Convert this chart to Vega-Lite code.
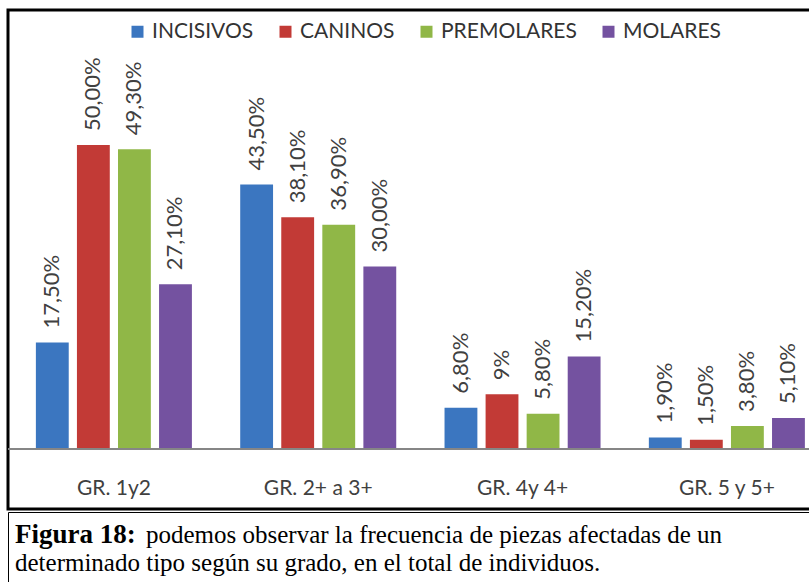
{
  "$schema": "https://vega.github.io/schema/vega-lite/v6.json",
  "padding": {"left": 5, "top": 8, "right": 0, "bottom": 0},
  "background": "white",
  "spacing": 0,
  "vconcat": [
    {
      "width": 803,
      "height": 499,
      "view": {"stroke": "black", "strokeWidth": 3},
      "data": {"values": [
        {"group": "GR. 1y2", "tipo": "INCISIVOS", "value": 17.5, "label": "17,50%"},
        {"group": "GR. 1y2", "tipo": "CANINOS", "value": 50.0, "label": "50,00%"},
        {"group": "GR. 1y2", "tipo": "PREMOLARES", "value": 49.3, "label": "49,30%"},
        {"group": "GR. 1y2", "tipo": "MOLARES", "value": 27.1, "label": "27,10%"},
        {"group": "GR. 2+ a 3+", "tipo": "INCISIVOS", "value": 43.5, "label": "43,50%"},
        {"group": "GR. 2+ a 3+", "tipo": "CANINOS", "value": 38.1, "label": "38,10%"},
        {"group": "GR. 2+ a 3+", "tipo": "PREMOLARES", "value": 36.9, "label": "36,90%"},
        {"group": "GR. 2+ a 3+", "tipo": "MOLARES", "value": 30.0, "label": "30,00%"},
        {"group": "GR. 4y 4+", "tipo": "INCISIVOS", "value": 6.8, "label": "6,80%"},
        {"group": "GR. 4y 4+", "tipo": "CANINOS", "value": 9.0, "label": "9%"},
        {"group": "GR. 4y 4+", "tipo": "PREMOLARES", "value": 5.8, "label": "5,80%"},
        {"group": "GR. 4y 4+", "tipo": "MOLARES", "value": 15.2, "label": "15,20%"},
        {"group": "GR. 5 y 5+", "tipo": "INCISIVOS", "value": 1.9, "label": "1,90%"},
        {"group": "GR. 5 y 5+", "tipo": "CANINOS", "value": 1.5, "label": "1,50%"},
        {"group": "GR. 5 y 5+", "tipo": "PREMOLARES", "value": 3.8, "label": "3,80%"},
        {"group": "GR. 5 y 5+", "tipo": "MOLARES", "value": 5.1, "label": "5,10%"}
      ]},
      "layer": [
        {
          "mark": {"type": "bar"},
          "encoding": {
            "x": {
              "field": "group", "type": "nominal",
              "sort": ["GR. 1y2", "GR. 2+ a 3+", "GR. 4y 4+", "GR. 5 y 5+"],
              "scale": {"paddingInner": 0.2364, "paddingOuter": 0.0832, "align": 0.82},
              "axis": {
                "title": null, "ticks": false, "domain": false, "grid": false,
                "labelAngle": 0, "labelPadding": -32, "labelBaseline": "top",
                "labelFont": "Lato", "labelFontSize": 21,
                "labelColor": "#404040"
              }
            },
            "xOffset": {
              "field": "tipo", "type": "nominal",
              "sort": ["INCISIVOS", "CANINOS", "PREMOLARES", "MOLARES"],
              "scale": {"paddingInner": 0.2, "paddingOuter": 0}
            },
            "y": {
              "field": "value", "type": "quantitative",
              "scale": {"domain": [-9.87, 72.2], "nice": false, "zero": false},
              "axis": null
            },
            "y2": {"datum": 0},
            "color": {
              "field": "tipo", "type": "nominal",
              "sort": ["INCISIVOS", "CANINOS", "PREMOLARES", "MOLARES"],
              "scale": {"domain": ["INCISIVOS", "CANINOS", "PREMOLARES", "MOLARES"],
                        "range": ["#3B76C0", "#C23A36", "#90B747", "#7452A0"]},
              "legend": {
                "title": null, "orient": "none", "direction": "horizontal",
                "legendX": 119, "legendY": 11,
                "symbolType": "square", "symbolSize": 144, "symbolStrokeWidth": 0,
                "labelFont": "Lato", "labelFontSize": 21,
                "labelColor": "#333333", "labelOffset": 4, "columnPadding": 21,
                "labelLimit": 300
              }
            }
          }
        },
        {
          "mark": {"type": "text", "angle": 270, "align": "left", "baseline": "middle",
                   "dx": 14, "font": "Lato", "fontSize": 22, "color": "#404040"},
          "encoding": {
            "x": {"field": "group", "type": "nominal", "sort": ["GR. 1y2", "GR. 2+ a 3+", "GR. 4y 4+", "GR. 5 y 5+"]},
            "xOffset": {"field": "tipo", "type": "nominal", "sort": ["INCISIVOS", "CANINOS", "PREMOLARES", "MOLARES"]},
            "y": {"field": "value", "type": "quantitative"},
            "text": {"field": "label"}
          }
        },
        {
          "mark": {"type": "rule", "color": "#868686", "strokeWidth": 1.5},
          "encoding": {"y": {"datum": 0}}
        }
      ]
    },
    {
      "width": 804,
      "height": 75,
      "view": {"stroke": "black", "strokeWidth": 1},
      "layer": [
        {
          "data": {"values": [{"t": "Figura 18:"}]},
          "mark": {"type": "text", "x": 7, "y": 31, "align": "left", "baseline": "alphabetic",
                   "font": "Liberation Serif", "fontSize": 27, "fontWeight": "bold", "color": "black"},
          "encoding": {"text": {"field": "t"}}
        },
        {
          "data": {"values": [{"t": "podemos observar la frecuencia de piezas afectadas de un"}]},
          "mark": {"type": "text", "x": 138, "y": 31, "align": "left", "baseline": "alphabetic",
                   "font": "Liberation Serif", "fontSize": 25, "color": "black"},
          "encoding": {"text": {"field": "t"}}
        },
        {
          "data": {"values": [{"t": "determinado tipo según su grado, en el total de individuos."}]},
          "mark": {"type": "text", "x": 7, "y": 59, "align": "left", "baseline": "alphabetic",
                   "font": "Liberation Serif", "fontSize": 25, "color": "black"},
          "encoding": {"text": {"field": "t"}}
        }
      ]
    }
  ]
}
